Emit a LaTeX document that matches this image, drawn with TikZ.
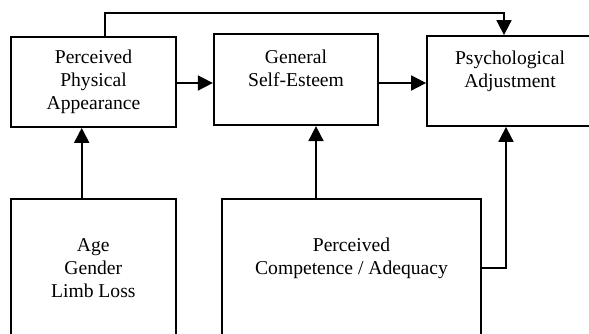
\documentclass[tikz,border=0pt]{standalone}
\usepackage{fontspec}
\setmainfont{Liberation Serif}
\usetikzlibrary{arrows.meta}
\begin{document}
\begin{tikzpicture}[x=1pt,y=-1pt,
            box/.style={draw, line width=1.8pt, align=center, inner sep=0pt,
                font=\fontsize{19.6}{23}\selectfont},
            link/.style={line width=1.8pt, -{Triangle[length=15pt,width=15pt]}}]
                \useasboundingbox (0,0) rectangle (589,333);
                \clip (0,0) rectangle (589,333);
                \node [box, minimum width=164.5, minimum height=90] (appear) at (93.5,82) {Perceived\\Physical\\Appearance};
                \node [box, minimum width=164.5, minimum height=91] (esteem) at (296,79.7) {General\\Self-Esteem\\\mbox{}};
                \node [box, minimum width=166, minimum height=90] (adjust) at (510,81) {Psychological\\Adjustment\\\mbox{}};
                \node [box, minimum width=164.7, minimum height=138] (demog) at (93.3,268) {Age\\Gender\\Limb Loss};
                \node [box, minimum width=258.4, minimum height=138] (compet) at (351.5,268) {Perceived\\Competence / Adequacy\\\mbox{}};
                \coordinate (top) at (0,13.3);
                % \draw (appear) -- (adjust);
                \draw [link] ([xshift=11.5pt]appear.north) |- ([xshift=-6pt]adjust.north |- top) -- ([xshift=-6pt]adjust.north);
                \draw [link] ([yshift=-1pt]appear.east) -- ([yshift=-1pt]appear.east -| esteem.west);
                \draw [link] ([yshift=-3.3pt]esteem.east) -- ([yshift=-3.3pt]esteem.east -| adjust.west);
                \draw [link] ([xshift=-11.6pt]demog.north) -- ([xshift=-11.6pt]demog.north |- appear.south);
                \draw [link] ([xshift=-35.5pt]compet.north) -- ([xshift=-35.5pt]compet.north |- esteem.south);
                \draw [link] (compet.east) -| ([xshift=-4pt]adjust.south);
            \end{tikzpicture}
\end{document}
